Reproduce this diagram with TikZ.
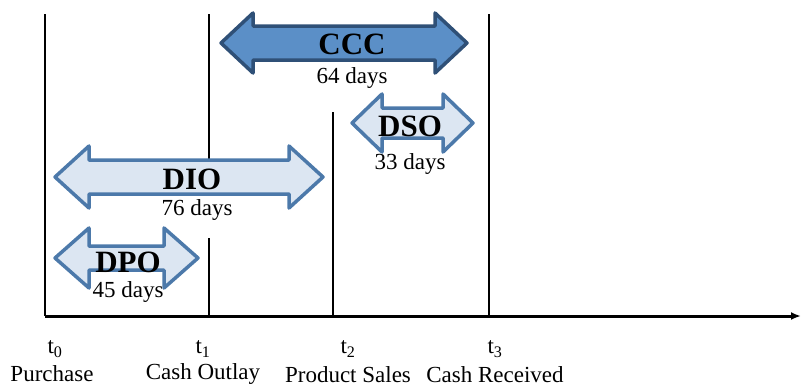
\documentclass[tikz,border=0pt]{standalone}
\usepackage{fontspec}
\setmainfont{Liberation Serif}
\usetikzlibrary{arrows.meta}
\definecolor{darkfill}{HTML}{5B8FC7}
\definecolor{darkedge}{HTML}{2F5077}
\definecolor{lightfill}{HTML}{DCE6F2}
\definecolor{lightedge}{HTML}{4C79AA}
\tikzset{
  darrow/.style={line width=3.5pt, line join=round},
  cccarrow/.style={darrow, fill=darkfill, draw=darkedge},
  lightarrow/.style={darrow, fill=lightfill, draw=lightedge},
  bigtxt/.style={inner sep=0pt, font=\fontsize{31}{33}\selectfont\bfseries},
  daystxt/.style={inner sep=0pt, font=\fontsize{23}{25}\selectfont},
  timetxt/.style={inner sep=0pt, font=\fontsize{23}{25}\selectfont},
  vline/.style={line width=2pt},
}
% #1 xL, #2 xR, #3 yc, #4 head length, #5 head half height, #6 body half height
\newcommand{\dblarr}[7]{%
  \path[#7] (#1,#3) -- (#1+#4,#3-#5) -- (#1+#4,#3-#6) -- (#2-#4,#3-#6) -- (#2-#4,#3-#5)
   -- (#2,#3) -- (#2-#4,#3+#5) -- (#2-#4,#3+#6) -- (#1+#4,#3+#6) -- (#1+#4,#3+#5) -- cycle;}
\begin{document}
\begin{tikzpicture}[x=1pt,y=-1pt]
\useasboundingbox (0,0) rectangle (802,388);
% coordinates
\coordinate (t0top) at (45,14);
\coordinate (t0bot) at (45,316);
\coordinate (t1top) at (209,14);
\coordinate (t1mid) at (209,160);
\coordinate (t1low) at (209,238);
\coordinate (t1bot) at (209,316);
\coordinate (t2top) at (333,112);
\coordinate (t2bot) at (333,316);
\coordinate (t3top) at (489,14);
\coordinate (t3bot) at (489,316);
\coordinate (axend) at (801,316);
% vertical lines
\draw[vline] (t0top) -- (t0bot);
\draw[vline] (t1top) -- (t1mid);
\draw[vline] (t1low) -- (t1bot);
\draw[vline] (t2top) -- (t2bot);
\draw[vline] (t3top) -- (t3bot);
% axis
\draw[line width=3pt, -{Latex[length=10pt,width=8pt]}] (t0bot) -- (axend);
% arrows
\dblarr{221}{467}{43}{32}{30}{17}{cccarrow}
\dblarr{55}{323}{177}{34}{31}{17}{lightarrow}
\dblarr{55}{198}{258}{34}{30}{12}{lightarrow}
\dblarr{352}{473}{123}{30}{29}{15}{lightarrow}
% labels
\node[bigtxt] (ccc) at (352,44) {CCC};
\node[daystxt] (cccd) at (352,78) {64 days};
\node[bigtxt] (dio) at (192,179) {DIO};
\node[daystxt] (diod) at (197,210) {76 days};
\node[bigtxt] (dpo) at (128,262) {DPO};
\node[daystxt] (dpod) at (128,292) {45 days};
\node[bigtxt] (dso) at (410,126) {DSO};
\node[daystxt] (dsod) at (410,164) {33 days};
% time labels
\node[timetxt] (l0) at (55,349) {t\textsubscript{0}};
\node[timetxt] (n0) at (52,374) {Purchase};
\node[timetxt] (l1) at (203,349) {t\textsubscript{1}};
\node[timetxt] (n1) at (203,374) {Cash Outlay};
\node[timetxt] (l2) at (348,349) {t\textsubscript{2}};
\node[timetxt] (n2) at (348,375) {Product Sales};
\node[timetxt] (l3) at (495,349) {t\textsubscript{3}};
\node[timetxt] (n3) at (495,375) {Cash Received};
\end{tikzpicture}
\end{document}
